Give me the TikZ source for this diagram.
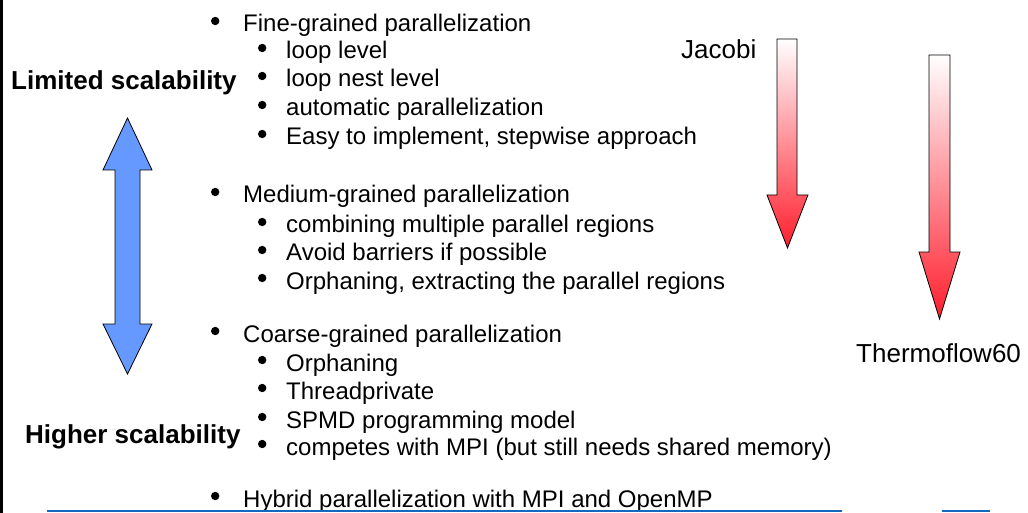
\documentclass[tikz,border=0pt]{standalone}
\usepackage{fontspec}
\setmainfont{Liberation Sans}
\usepackage{xcolor}
\usepackage{tikz}
\usetikzlibrary{positioning}
\definecolor{scaleblue}{RGB}{102,153,255}
\definecolor{runred}{RGB}{255,30,45}
\definecolor{rulecol}{RGB}{20,105,190}
\DeclareRobustCommand{\bul}[1]{%
  \llap{\tikz[baseline=-11pt]{\fill (0,0) circle (4.2pt);}\hspace{#1}}}

\begin{document}
\begin{tikzpicture}[
  x=1pt, y=-1pt,
  item/.style={font=\fontsize{24}{28}\selectfont, inner sep=0pt, anchor=base west},
  tag/.style={font=\fontsize{26}{30}\selectfont\bfseries, inner sep=0pt, anchor=base west},
  runlbl/.style={font=\fontsize{26}{30}\selectfont, inner sep=0pt, anchor=base west},
  runarrow/.style={draw=black, line width=0.8pt, top color=white, bottom color=runred},
]
  \useasboundingbox (0,0) rectangle (1028,513);
  \fill[black] (0,0) rectangle (3,513);
  % scalability axis
  \node[tag] (lim) at (11,90) {Limited scalability};
  \node[tag] (high) at (25,443) {Higher scalability};
  \draw[fill=scaleblue, line width=0.8pt, line join=miter]
    (127.5,118) -- (152,170) -- (140,170) -- (140,324) -- (152,324) -- (127.5,374)
    -- (103,324) -- (115,324) -- (115,170) -- (103,170) -- cycle;
  % fine-grained
  \node[item] (fine) at (243,32) {\bul{23.8pt}Fine-grained parallelization};
  \node[item] (f1) at (286,59) {\bul{19.8pt}loop level};
  \node[item] (f2) at (286,87) {\bul{19.8pt}loop nest level};
  \node[item] (f3) at (286,116) {\bul{19.8pt}automatic parallelization};
  \node[item] (f4) at (286,145) {\bul{19.8pt}Easy to implement, stepwise approach};
  % medium-grained
  \node[item] (med) at (243,203) {\bul{23.8pt}Medium-grained parallelization};
  \node[item] (m1) at (286,233) {\bul{19.8pt}combining multiple parallel regions};
  \node[item] (m2) at (286,261) {\bul{19.8pt}Avoid barriers if possible};
  \node[item] (m3) at (286,289) {\bul{19.8pt}Orphaning, extracting the parallel regions};
  % coarse-grained
  \node[item] (coarse) at (243,342) {\bul{23.8pt}Coarse-grained parallelization};
  \node[item] (c1) at (286,371) {\bul{19.8pt}Orphaning};
  \node[item] (c2) at (286,399) {\bul{19.8pt}Threadprivate};
  \node[item] (c3) at (286,428) {\bul{19.8pt}SPMD programming model};
  \node[item] (c4) at (286,455) {\bul{19.8pt}competes with MPI (but still needs shared memory)};
  % hybrid
  \node[item] (hyb) at (243,507) {\bul{23.8pt}Hybrid parallelization with MPI and OpenMP};
  % codes
  \node[runlbl] (jac) at (681,59) {Jacobi};
  \node[runlbl] (thermo) at (856,362) {Thermoflow60};
  \path[runarrow] (777,39) -- (797,39) -- (797,195) -- (808,195) -- (787.5,248)
    -- (767,195) -- (777,195) -- cycle;
  \path[runarrow] (929,55) -- (950,55) -- (950,252) -- (960,252) -- (939.5,319)
    -- (919,252) -- (929,252) -- cycle;
  % footer rule
  \draw[rulecol, line width=2pt] (47,511) -- (842,511);
  \draw[rulecol, line width=2pt] (942,511) -- (990,511);
\end{tikzpicture}
\end{document}
